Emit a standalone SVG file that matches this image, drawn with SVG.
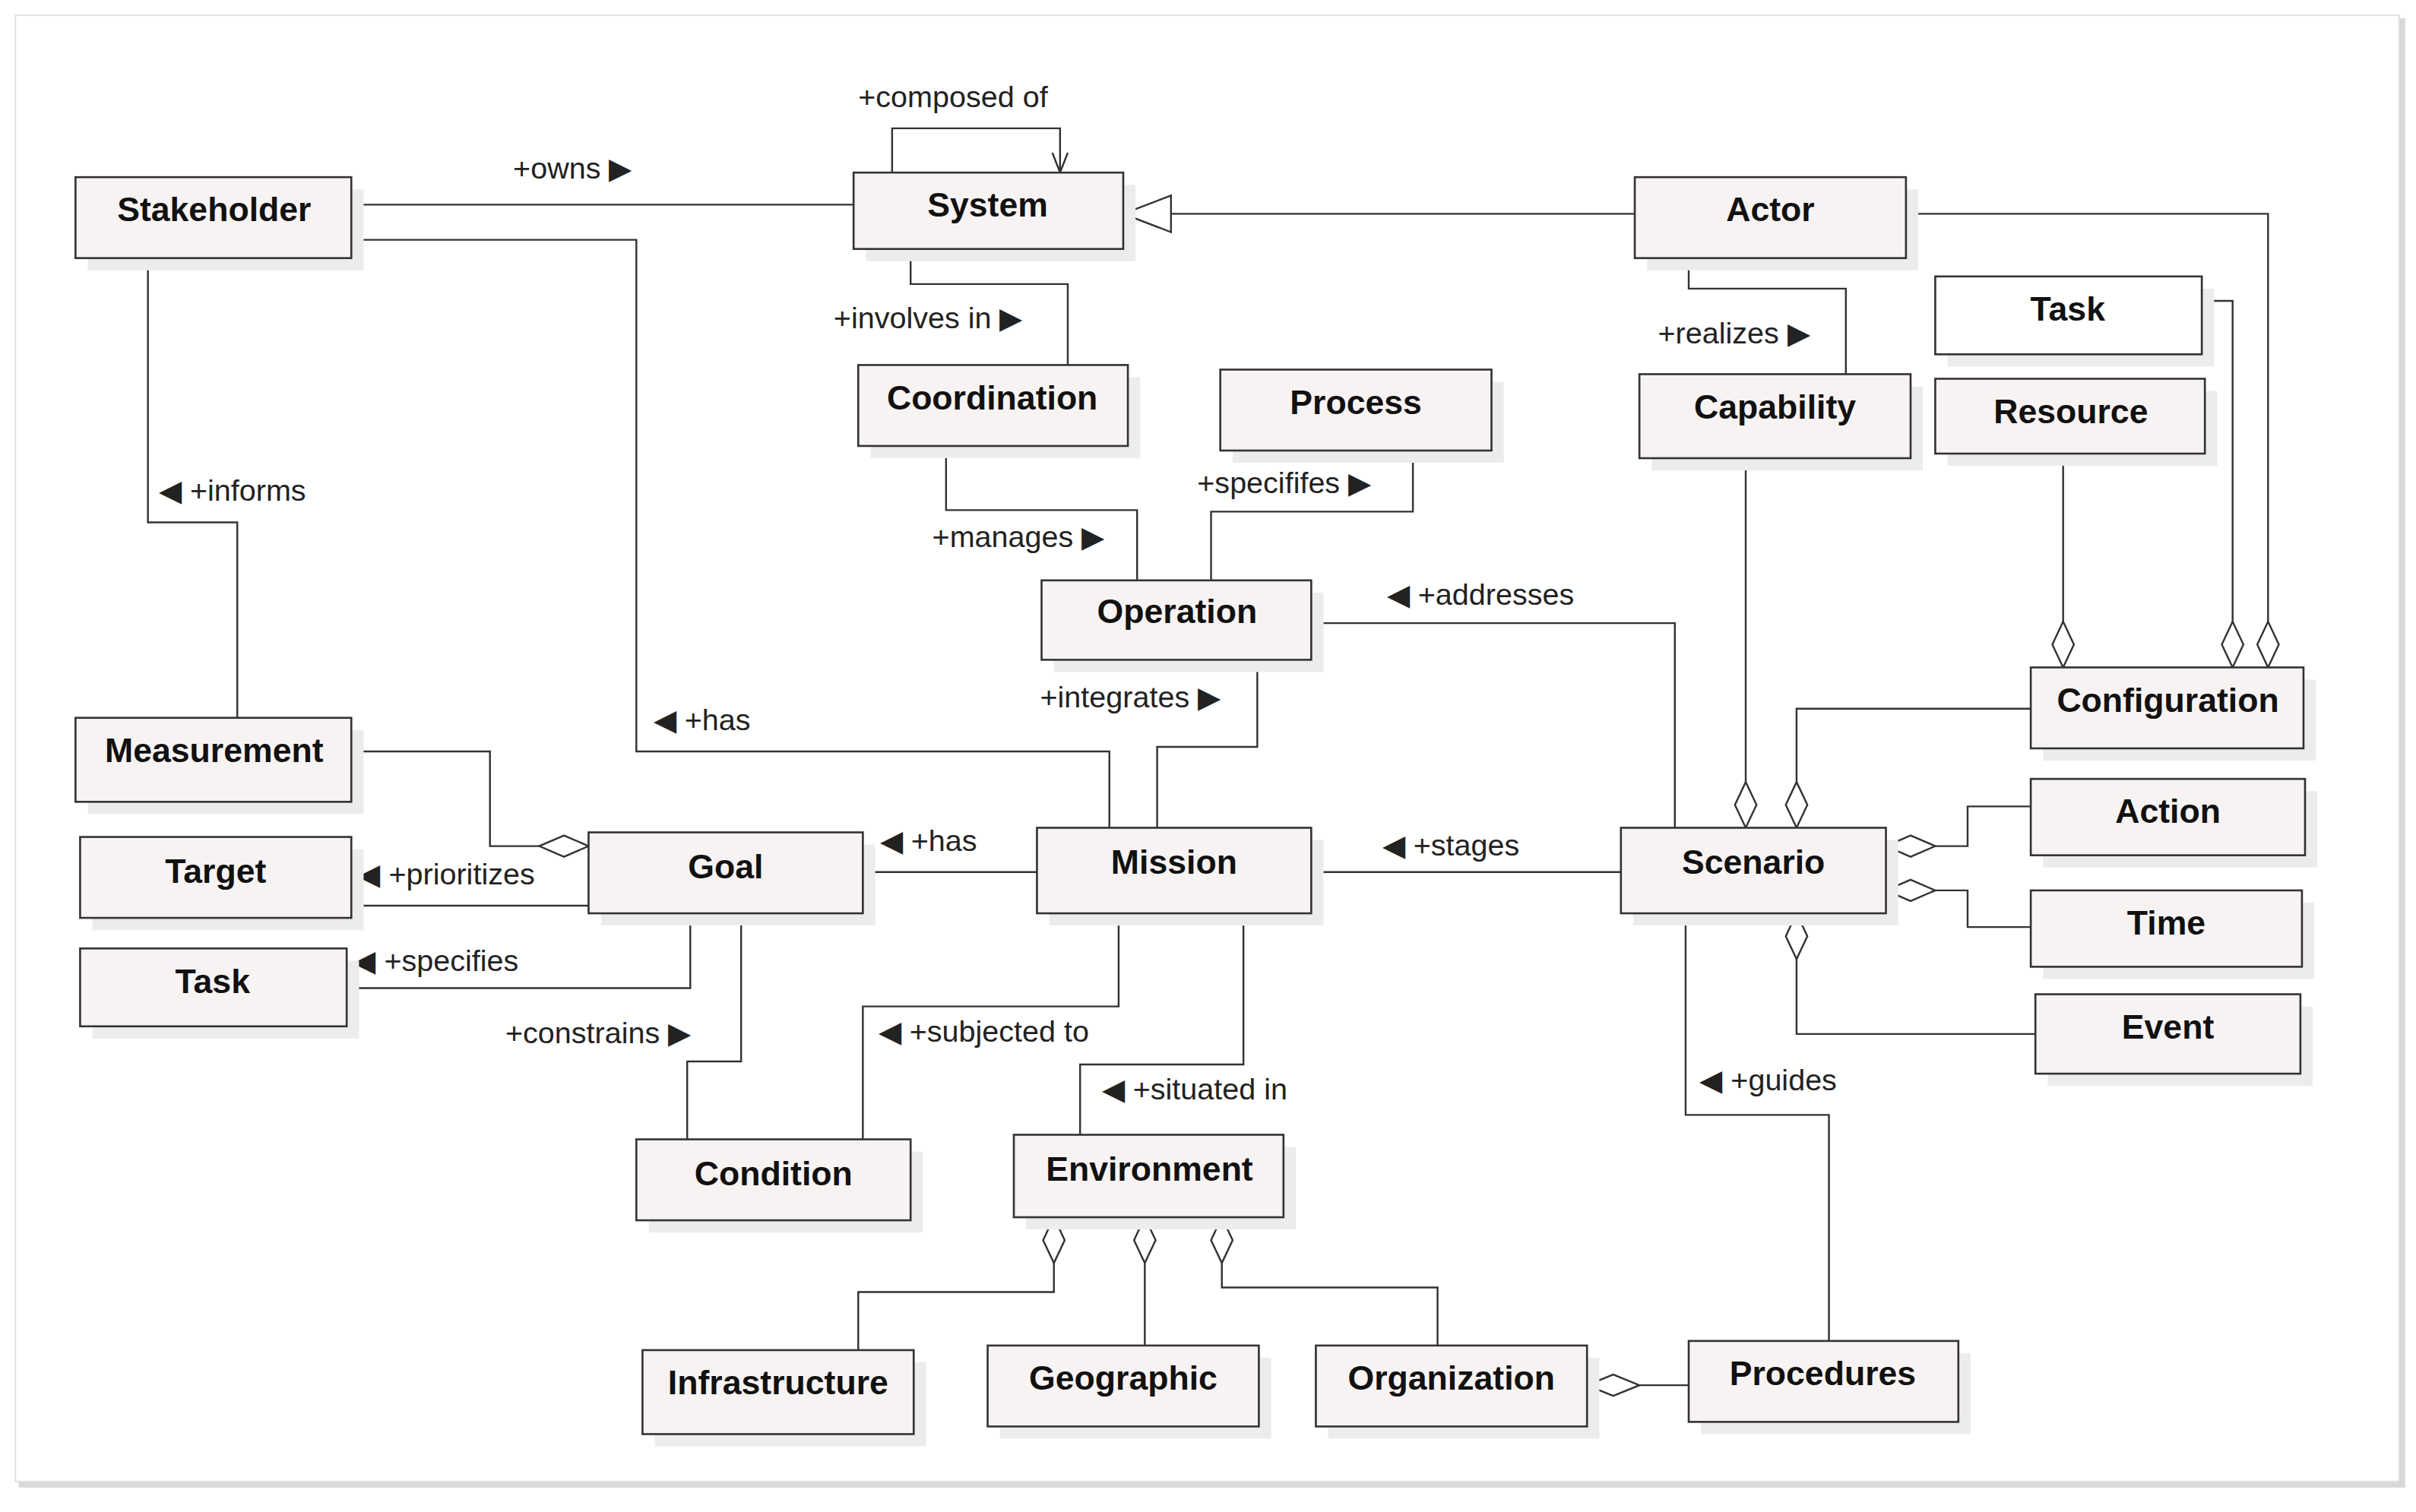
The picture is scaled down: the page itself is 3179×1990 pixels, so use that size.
<svg xmlns="http://www.w3.org/2000/svg" width="3179" height="1990" viewBox="0 0 3179 1990">
<style>
.n rect.b{fill:#f8f3f3;stroke:#333;stroke-width:1.3}
.n rect.s{fill:#ececec}
.n text{font-family:"Liberation Sans",Arial,sans-serif;font-weight:bold;font-size:22px;fill:#111;text-anchor:middle}
.c path{fill:none;stroke:#333;stroke-width:1.2}
.l{font-family:"Liberation Sans",Arial,sans-serif;font-size:19.5px;fill:#222}
.d{fill:#fff;stroke:#333;stroke-width:1.2}
.f{fill:#111;stroke:#111;stroke-width:1.2}
</style>
<rect width="3179" height="1990" fill="#fff"/>
<g transform="scale(2.0274,2.0101)">
<rect x="12" y="12" width="1549" height="962" fill="#d8d8d8"/>
<rect x="10" y="10" width="1547" height="960" fill="#fff" stroke="#e2e2e2"/>
<g class="c" id="connectors">
<path d="M228,134H554"/>
<path d="M228,157H413V492H720V542"/>
<path d="M96,169V342H154V470"/>
<path d="M579,113V84H688V113M683,100L688,113L693,100"/>
<path d="M1061,140H760"/><path class="d" d="M729,140L760,128V152Z"/>
<path d="M591,163V186H693V239"/>
<path d="M614,292V334H738V380"/>
<path d="M917,295V335H786V380"/>
<path d="M851,408H1087V542"/>
<path d="M816,432V489H751V542"/>
<path d="M1096,169V189H1198V245"/>
<path d="M1237,140H1472V408"/><path class="d" d="M1472,437L1465,422L1472,407L1479,422Z"/>
<path d="M1429,197H1449V408"/><path class="d" d="M1449,437L1442,422L1449,407L1456,422Z"/>
<path d="M1339,297V408"/><path class="d" d="M1339,437L1332,422L1339,407L1346,422Z"/>
<path d="M1133,300V512"/><path class="d" d="M1133,542L1126,527L1133,512L1140,527Z"/>
<path d="M1318,464H1166V512"/><path class="f" d="M1166,542L1159,527L1166,512L1173,527Z"/>
<path d="M1256,554H1277V528H1318"/><path class="d" d="M1224,554L1240,547L1256,554L1240,561Z"/>
<path d="M1256,583H1277V607H1318"/><path class="d" d="M1224,583L1240,576L1256,583L1240,590Z"/>
<path d="M1166,628V677H1321"/><path class="d" d="M1166,598L1159,613L1166,628L1173,613Z"/>
<path d="M851,571H1052"/>
<path d="M560,571H673"/>
<path d="M228,492H318V554H350"/><path class="d" d="M382,554L366,547L350,554L366,561Z"/>
<path d="M228,593H382"/>
<path d="M225,647H448V598"/>
<path d="M481,598V695H446V746"/>
<path d="M726,598V659H560V746"/>
<path d="M807,598V697H701V743"/>
<path d="M1094,598V730H1187V878"/>
<path d="M684,827V846H557V884"/><path class="d" d="M684,797L677,812L684,827L691,812Z"/>
<path d="M743,827V881"/><path class="d" d="M743,797L736,812L743,827L750,812Z"/>
<path d="M793,827V843H933V881"/><path class="d" d="M793,797L786,812L793,827L800,812Z"/>
<path d="M1064,907H1096"/><path class="d" d="M1030,907L1047,900L1064,907L1047,914Z"/>
</g>
<g id="labels">
<text class="l" x="333" y="117">+owns ▶</text>
<text class="l" x="424" y="478">◀ +has</text>
<text class="l" x="103" y="328">◀ +informs</text>
<text class="l" x="557" y="70">+composed of</text>
<text class="l" x="541" y="215">+involves in ▶</text>
<text class="l" x="605" y="358">+manages ▶</text>
<text class="l" x="777" y="323">+specififes ▶</text>
<text class="l" x="900" y="396">◀ +addresses</text>
<text class="l" x="675" y="463">+integrates ▶</text>
<text class="l" x="1076" y="225">+realizes ▶</text>
<text class="l" x="897" y="560">◀ +stages</text>
<text class="l" x="571" y="557">◀ +has</text>
<text class="l" x="232" y="579">◀ +prioritizes</text>
<text class="l" x="229" y="636">◀ +specifies</text>
<text class="l" x="328" y="683">+constrains ▶</text>
<text class="l" x="570" y="682">◀ +subjected to</text>
<text class="l" x="715" y="720">◀ +situated in</text>
<text class="l" x="1103" y="714">◀ +guides</text>
</g>
<g class="n" id="stakeholder"><rect class="s" x="57" y="124" width="179" height="53"/><rect class="b" x="49" y="116" width="179" height="53"/><text x="139" y="145">Stakeholder</text></g>
<g class="n" id="system"><rect class="s" x="562" y="121" width="175" height="50"/><rect class="b" x="554" y="113" width="175" height="50"/><text x="641" y="142">System</text></g>
<g class="n" id="actor"><rect class="s" x="1069" y="124" width="176" height="53"/><rect class="b" x="1061" y="116" width="176" height="53"/><text x="1149" y="145">Actor</text></g>
<g class="n" id="coordination"><rect class="s" x="565" y="247" width="175" height="53"/><rect class="b" x="557" y="239" width="175" height="53"/><text x="644" y="268">Coordination</text></g>
<g class="n" id="process"><rect class="s" x="800" y="250" width="176" height="53"/><rect class="b" x="792" y="242" width="176" height="53"/><text x="880" y="271">Process</text></g>
<g class="n" id="capability"><rect class="s" x="1072" y="253" width="176" height="55"/><rect class="b" x="1064" y="245" width="176" height="55"/><text x="1152" y="274">Capability</text></g>
<g class="n" id="task-top"><rect class="s" x="1264" y="189" width="173" height="51"/><rect class="b" x="1256" y="181" width="173" height="51" style="fill:#fff"/><text x="1342" y="210">Task</text></g>
<g class="n" id="resource"><rect class="s" x="1264" y="256" width="175" height="49"/><rect class="b" x="1256" y="248" width="175" height="49"/><text x="1344" y="277">Resource</text></g>
<g class="n" id="operation"><rect class="s" x="684" y="388" width="175" height="52"/><rect class="b" x="676" y="380" width="175" height="52"/><text x="764" y="408">Operation</text></g>
<g class="n" id="configuration"><rect class="s" x="1326" y="445" width="177" height="53"/><rect class="b" x="1318" y="437" width="177" height="53"/><text x="1407" y="466">Configuration</text></g>
<g class="n" id="measurement"><rect class="s" x="57" y="478" width="179" height="55"/><rect class="b" x="49" y="470" width="179" height="55"/><text x="139" y="499">Measurement</text></g>
<g class="n" id="target"><rect class="s" x="60" y="556" width="176" height="53"/><rect class="b" x="52" y="548" width="176" height="53"/><text x="140" y="578">Target</text></g>
<g class="n" id="goal"><rect class="s" x="390" y="553" width="178" height="53"/><rect class="b" x="382" y="545" width="178" height="53"/><text x="471" y="575">Goal</text></g>
<g class="n" id="mission"><rect class="s" x="681" y="550" width="178" height="56"/><rect class="b" x="673" y="542" width="178" height="56"/><text x="762" y="572">Mission</text></g>
<g class="n" id="scenario"><rect class="s" x="1060" y="550" width="172" height="56"/><rect class="b" x="1052" y="542" width="172" height="56"/><text x="1138" y="572">Scenario</text></g>
<g class="n" id="action"><rect class="s" x="1326" y="518" width="178" height="50"/><rect class="b" x="1318" y="510" width="178" height="50"/><text x="1407" y="539">Action</text></g>
<g class="n" id="time"><rect class="s" x="1326" y="591" width="176" height="50"/><rect class="b" x="1318" y="583" width="176" height="50"/><text x="1406" y="612">Time</text></g>
<g class="n" id="event"><rect class="s" x="1329" y="659" width="172" height="52"/><rect class="b" x="1321" y="651" width="172" height="52"/><text x="1407" y="680">Event</text></g>
<g class="n" id="task-left"><rect class="s" x="60" y="629" width="173" height="51"/><rect class="b" x="52" y="621" width="173" height="51"/><text x="138" y="650">Task</text></g>
<g class="n" id="condition"><rect class="s" x="421" y="754" width="178" height="53"/><rect class="b" x="413" y="746" width="178" height="53"/><text x="502" y="776">Condition</text></g>
<g class="n" id="environment"><rect class="s" x="666" y="751" width="175" height="54"/><rect class="b" x="658" y="743" width="175" height="54"/><text x="746" y="773">Environment</text></g>
<g class="n" id="infrastructure"><rect class="s" x="425" y="892" width="176" height="55"/><rect class="b" x="417" y="884" width="176" height="55"/><text x="505" y="913">Infrastructure</text></g>
<g class="n" id="geographic"><rect class="s" x="649" y="889" width="176" height="53"/><rect class="b" x="641" y="881" width="176" height="53"/><text x="729" y="910">Geographic</text></g>
<g class="n" id="organization"><rect class="s" x="862" y="889" width="176" height="53"/><rect class="b" x="854" y="881" width="176" height="53"/><text x="942" y="910">Organization</text></g>
<g class="n" id="procedures"><rect class="s" x="1104" y="886" width="175" height="53"/><rect class="b" x="1096" y="878" width="175" height="53"/><text x="1183" y="907">Procedures</text></g>
</g>
</svg>
